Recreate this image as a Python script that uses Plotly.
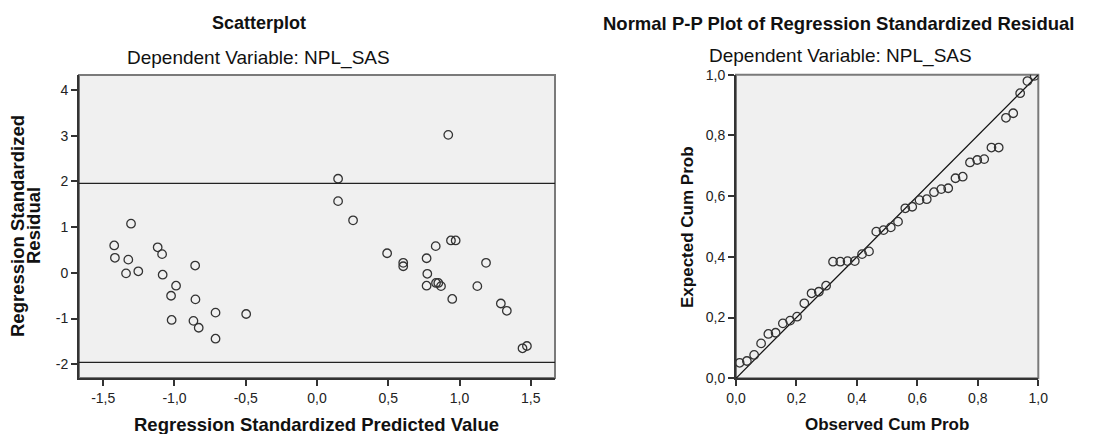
import plotly.graph_objects as go

# --- Scatterplot: standardized predicted value vs standardized residual ---
pred_std = [
    -1.305, -1.423, -1.118, -1.087, -1.418, -1.324, -1.340, -1.254, -1.083, -0.855,
    -0.989, -1.024, -0.853, -0.712, -0.497, -1.020, -0.867, -0.830, -0.712,
    0.921, 0.148, 0.148, 0.253, 0.940, 0.973, 0.833, 0.492, 0.605, 0.605,
    0.769, 1.186, 0.774, 0.769, 0.835, 0.851, 0.870, 1.125, 0.949, 1.290,
    1.332, 1.442, 1.473,
]
resid_std = [
    1.077, 0.60, 0.56, 0.41, 0.33, 0.29, -0.01, 0.035, -0.04, 0.16,
    -0.28, -0.50, -0.58, -0.87, -0.90, -1.03, -1.05, -1.20, -1.44,
    3.02, 2.06, 1.57, 1.15, 0.71, 0.71, 0.585, 0.43, 0.22, 0.145,
    0.32, 0.22, -0.02, -0.28, -0.22, -0.22, -0.29, -0.29, -0.57, -0.67,
    -0.83, -1.65, -1.60,
]
ref_levels = [1.96, -1.96]

scatter_xticks = [-1.5, -1.0, -0.5, 0.0, 0.5, 1.0, 1.5]
scatter_xlabels = ["-1,5", "-1,0", "-0,5", "0,0", "0,5", "1,0", "1,5"]
scatter_yticks = [-2, -1, 0, 1, 2, 3, 4]
scatter_ylabels = ["-2", "-1", "0", "1", "2", "3", "4"]

# --- Normal P-P plot of the standardized residuals ---
observed_cum = [
    0.012, 0.036, 0.060, 0.083, 0.107, 0.131, 0.155, 0.179, 0.202, 0.226,
    0.250, 0.274, 0.298, 0.321, 0.345, 0.369, 0.393, 0.417, 0.440, 0.464,
    0.488, 0.512, 0.536, 0.560, 0.583, 0.607, 0.631, 0.655, 0.679, 0.702,
    0.726, 0.750, 0.774, 0.798, 0.821, 0.845, 0.869, 0.893, 0.917, 0.940,
    0.964, 0.988,
]
expected_cum = [
    0.051, 0.057, 0.077, 0.115, 0.146, 0.150, 0.181, 0.190, 0.203, 0.247,
    0.280, 0.285, 0.305, 0.384, 0.384, 0.386, 0.386, 0.409, 0.418, 0.483,
    0.488, 0.497, 0.516, 0.560, 0.565, 0.587, 0.590, 0.613, 0.623, 0.626,
    0.659, 0.664, 0.711, 0.719, 0.722, 0.760, 0.760, 0.858, 0.873, 0.939,
    0.979, 0.996,
]
diag_line = [0.0, 1.0]

pp_ticks = [0.0, 0.2, 0.4, 0.6, 0.8, 1.0]
pp_labels = ["0,0", "0,2", "0,4", "0,6", "0,8", "1,0"]

W, H = 1107, 434


def px_x(p):
    return p / W


def px_y(p):
    return 1 - p / H


FONT = "Liberation Sans, Arial, sans-serif"
PLOT_BG = "#f0f0f0"
AXIS_DARK = "#333333"
FRAME_GRAY = "#7a7a7a"

marker_style = dict(symbol="circle-open", size=8.5, color="#333333",
                    line=dict(width=1.3, color="#333333"))

fig = go.Figure()

fig.add_trace(go.Scatter(x=pred_std, y=resid_std, mode="markers",
                         marker=marker_style, xaxis="x", yaxis="y",
                         showlegend=False, hoverinfo="x+y"))

fig.add_trace(go.Scatter(x=diag_line, y=diag_line, mode="lines",
                         line=dict(color="#111111", width=1.3),
                         xaxis="x2", yaxis="y2", showlegend=False,
                         hoverinfo="skip"))
fig.add_trace(go.Scatter(x=observed_cum, y=expected_cum, mode="markers",
                         marker=marker_style, xaxis="x2", yaxis="y2",
                         showlegend=False, hoverinfo="x+y"))

tick_font = dict(family=FONT, size=14, color="#222222")
axis_common = dict(showgrid=False, zeroline=False, ticks="outside",
                   ticklen=6, tickwidth=1.5, tickcolor=AXIS_DARK,
                   showline=True, linecolor=AXIS_DARK, linewidth=2,
                   tickfont=tick_font, fixedrange=True, automargin=False)

fig.update_layout(
    width=W, height=H,
    margin=dict(l=0, r=0, t=0, b=0, autoexpand=False),
    paper_bgcolor="white",
    plot_bgcolor=PLOT_BG,
    xaxis=dict(domain=[px_x(79), px_x(555)], range=[-1.67, 1.67],
               tickvals=scatter_xticks, ticktext=scatter_xlabels,
               anchor="y", **axis_common),
    yaxis=dict(domain=[px_y(378), px_y(75)], range=[-2.30, 4.33],
               tickvals=scatter_yticks, ticktext=scatter_ylabels,
               anchor="x", **axis_common),
    xaxis2=dict(domain=[px_x(736), px_x(1038.3)], range=[0, 1],
                tickvals=pp_ticks, ticktext=pp_labels,
                anchor="y2", **axis_common),
    yaxis2=dict(domain=[px_y(378.3), px_y(74.7)], range=[0, 1],
                tickvals=pp_ticks, ticktext=pp_labels,
                anchor="x2", **axis_common),
)

# Second background rectangle for the P-P panel plus gray frames on both panels
shapes = []
for xr, yr in (("x", "y"), ("x2", "y2")):
    shapes.append(dict(type="rect", xref=f"{xr} domain", yref=f"{yr} domain",
                       x0=0, x1=1, y0=0, y1=1, layer="below",
                       fillcolor=PLOT_BG, line=dict(color=FRAME_GRAY, width=2)))
for lvl in ref_levels:
    shapes.append(dict(type="line", xref="x domain", yref="y",
                       x0=0, x1=1, y0=lvl, y1=lvl,
                       line=dict(color="#222222", width=1.2)))
fig.update_layout(shapes=shapes)

annotations = []


def add_text(text, x, y, size, bold=False, angle=0):
    annotations.append(dict(
        text=f"<b>{text}</b>" if bold else text,
        x=px_x(x), y=px_y(y), xref="paper", yref="paper",
        xanchor="center", yanchor="middle", showarrow=False, textangle=angle,
        font=dict(family=FONT, size=size, color="#111111")))


# Titles
add_text("Scatterplot", 259, 23, 18, bold=True)
add_text("Dependent Variable: NPL_SAS", 258, 58, 19)
add_text("Normal P-P Plot of Regression Standardized Residual", 838.5, 24, 18.5, bold=True)
add_text("Dependent Variable: NPL_SAS", 840, 56, 19)

# Axis titles, scatterplot
add_text("Regression Standardized Predicted Value", 316, 424, 18.5, bold=True)
add_text("Regression Standardized", 18, 226, 18.5, bold=True, angle=-90)
add_text("Residual", 34, 226, 18.5, bold=True, angle=-90)

# Axis titles, P-P plot
add_text("Observed Cum Prob", 887, 424, 17, bold=True)
add_text("Expected Cum Prob", 687, 227, 17, bold=True, angle=-90)

fig.update_layout(annotations=annotations)

fig.write_html("out.html")
